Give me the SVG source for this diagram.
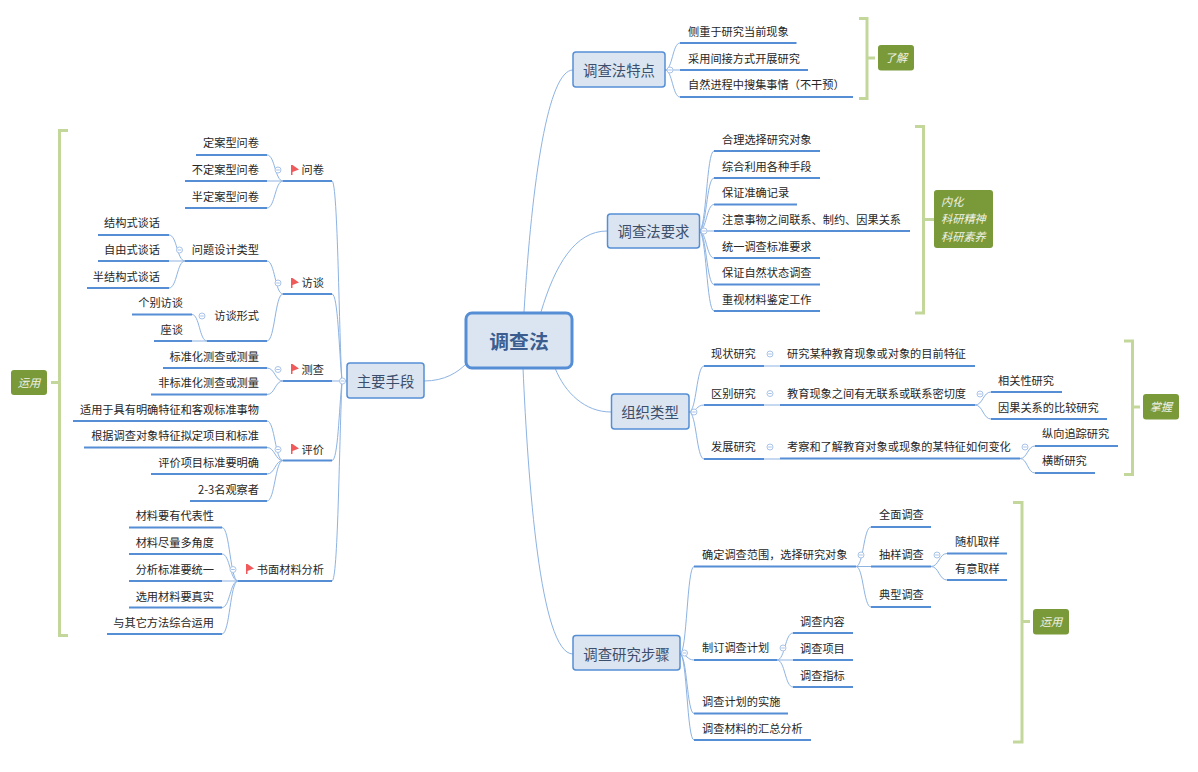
<svg xmlns="http://www.w3.org/2000/svg" width="1198" height="772" viewBox="0 0 1198 772">
<style>
text{font-family:"Noto Sans CJK SC","Liberation Sans",sans-serif;font-size:11.2px;fill:#262626}
.e{text-anchor:end}
.m{text-anchor:middle}
.ul{stroke:#558ed5;stroke-width:2;fill:none}
.c{stroke:#8db3e2;stroke-width:1;fill:none}
.br{stroke:#c4d79b;stroke-width:3;fill:none}
.t{fill:#dbe5f1;stroke:#558ed5;stroke-width:1.5}
.tt{font-size:14.4px;fill:#3b4e6b}
.lb{fill:#7a9a3a}
.lt{fill:#f2f2e6;font-style:italic}
.f{fill:#f15a5a}
</style>
<defs>
<g id="tog" fill="#fff" stroke="#a9c4e8" stroke-width="1"><circle r="3"/><path d="M-1.8 0H1.8" fill="none"/></g>
<polygon id="flag" points="291,165 292.500,165 299,169.500 292.500,172 292.500,175 291,175"/>
</defs>
<rect width="1198" height="772" fill="#fff"/>
<g id="connectors">
<path class="c" d="M424 381C445 381 458 372 466 364"/>
<path class="c" d="M524 312C532 180 548 70 573 70"/>
<path class="c" d="M541 312C555 265 575 231 607 231"/>
<path class="c" d="M555 368C565 393 585 412 611 412"/>
<path class="c" d="M523 368C528 480 540 654 573 654"/>
<path class="c" d="M347 381H332"/>
<path class="c" d="M342 381C339 340 338 181 332 181"/>
<path class="c" d="M342 381C339 350 338 294 332 294"/>
<path class="c" d="M342 381C339 410 338 460.500 332 460.500"/>
<path class="c" d="M342 381C339 450 338 581 332 581"/>
<path class="c" d="M283 181C275 181 275 155 267 155"/>
<path class="c" d="M283 181H267"/>
<path class="c" d="M283 181C275 181 275 208 267 208"/>
<path class="c" d="M283 294C275 294 275 261 267 261"/>
<path class="c" d="M283 294C275 294 275 341 267 341"/>
<path class="c" d="M185 261C177 261 177 235 169 235"/>
<path class="c" d="M185 261H169"/>
<path class="c" d="M185 261C177 261 177 288 169 288"/>
<path class="c" d="M207 341C199.500 341 199.500 314.500 192 314.500"/>
<path class="c" d="M207 341H192"/>
<path class="c" d="M283 381C275 381 275 368 267 368"/>
<path class="c" d="M283 381C275 381 275 394.500 267 394.500"/>
<path class="c" d="M283 460.500C275 460.500 275 421 267 421"/>
<path class="c" d="M283 460.500C275 460.500 275 447.500 267 447.500"/>
<path class="c" d="M283 460.500C275 460.500 275 474 267 474"/>
<path class="c" d="M283 460.500C275 460.500 275 501 267 501"/>
<path class="c" d="M238 581C230 581 230 527.500 222 527.500"/>
<path class="c" d="M238 581C230 581 230 554 222 554"/>
<path class="c" d="M238 581H222"/>
<path class="c" d="M238 581C230 581 230 607.500 222 607.500"/>
<path class="c" d="M238 581C230 581 230 634 222 634"/>
<path class="c" d="M665 70C672.500 70 672.500 43 680 43"/>
<path class="c" d="M665 70H680"/>
<path class="c" d="M665 70C672.500 70 672.500 97 680 97"/>
<path class="c" d="M699 231C706.500 231 706.500 151 714 151"/>
<path class="c" d="M699 231C706.500 231 706.500 178 714 178"/>
<path class="c" d="M699 231C706.500 231 706.500 204.500 714 204.500"/>
<path class="c" d="M699 231H714"/>
<path class="c" d="M699 231C706.500 231 706.500 258 714 258"/>
<path class="c" d="M699 231C706.500 231 706.500 284.500 714 284.500"/>
<path class="c" d="M699 231C706.500 231 706.500 311 714 311"/>
<path class="c" d="M689 412C696.500 412 696.500 366 704 366"/>
<path class="c" d="M689 412C696.500 412 696.500 405 704 405"/>
<path class="c" d="M689 412C696.500 412 696.500 459 704 459"/>
<path class="c" d="M764 366H780M764 405H780M764 459H780"/>
<path class="c" d="M975 405C983 405 983 392 991 392"/>
<path class="c" d="M975 405C983 405 983 419 991 419"/>
<path class="c" d="M1020 458.500C1027.500 458.500 1027.500 446 1035 446"/>
<path class="c" d="M1020 458.500C1027.500 458.500 1027.500 473 1035 473"/>
<path class="c" d="M680 654C687 654 687 566.500 694 566.500"/>
<path class="c" d="M680 654C687 654 687 660 694 660"/>
<path class="c" d="M680 654C687 654 687 713.500 694 713.500"/>
<path class="c" d="M680 654C687 654 687 740 694 740"/>
<path class="c" d="M856 566.500C863.500 566.500 863.500 527 871 527"/>
<path class="c" d="M856 566.500H871"/>
<path class="c" d="M856 566.500C863.500 566.500 863.500 607 871 607"/>
<path class="c" d="M931 566.500C939 566.500 939 553.500 947 553.500"/>
<path class="c" d="M931 566.500C939 566.500 939 580 947 580"/>
<path class="c" d="M777 660C785 660 785 633 793 633"/>
<path class="c" d="M777 660H793"/>
<path class="c" d="M777 660C785 660 785 687 793 687"/>
</g>
<g id="root"><rect x="466" y="313" width="106" height="55" rx="6" fill="#dbe5f1" stroke="#558ed5" stroke-width="3"/><text class="m" x="519" y="349" style="font-size:19.8px;font-weight:700;fill:#3b5d8f">调查法</text></g>
<g id="n-zhuyao"><rect class="t" x="347" y="363" width="77" height="35" rx="3"/><text class="tt m" x="385.500" y="386.500">主要手段</text></g>
<g id="n-tedian"><rect class="t" x="573" y="52" width="92" height="35" rx="3"/><text class="tt m" x="619" y="75.500">调查法特点</text></g>
<g id="n-yaoqiu"><rect class="t" x="607.500" y="214" width="92" height="34" rx="3"/><text class="tt m" x="653.500" y="236.500">调查法要求</text></g>
<g id="n-zuzhi"><rect class="t" x="611.500" y="394" width="77.500" height="35" rx="3"/><text class="tt m" x="650" y="417.500">组织类型</text></g>
<g id="n-buzhou"><rect class="t" x="573" y="635.500" width="107" height="34.500" rx="3"/><text class="tt m" x="626.500" y="659.500">调查研究步骤</text></g>
<g id="left-nodes">
<g id="l1"><path class="ul" d="M196 155H267"/><text class="e" x="259" y="147">定案型问卷</text></g>
<g id="l2"><path class="ul" d="M185 181H267"/><text class="e" x="259" y="174">不定案型问卷</text></g>
<g id="l3"><path class="ul" d="M185 208H267"/><text class="e" x="259" y="200.500">半定案型问卷</text></g>
<g id="l4"><path class="ul" d="M283 181H332"/><use href="#flag" class="f"/><text class="e" x="324" y="174">问卷</text></g>
<g id="l5"><path class="ul" d="M98 235H169"/><text class="e" x="160" y="227">结构式谈话</text></g>
<g id="l6"><path class="ul" d="M98 261H169"/><text class="e" x="160" y="254">自由式谈话</text></g>
<g id="l7"><path class="ul" d="M87 288H169"/><text class="e" x="160" y="280.500">半结构式谈话</text></g>
<g id="l8"><path class="ul" d="M185 261H267"/><text class="e" x="259" y="254">问题设计类型</text></g>
<g id="l9"><path class="ul" d="M132 314.500H192"/><text class="e" x="183" y="307">个别访谈</text></g>
<g id="l10"><path class="ul" d="M154 341H192"/><text class="e" x="183" y="334">座谈</text></g>
<g id="l11"><path class="ul" d="M207 341H267"/><text class="e" x="259" y="320">访谈形式</text></g>
<g id="l12"><path class="ul" d="M283 294H332"/><use href="#flag" y="113" class="f"/><text class="e" x="324" y="287">访谈</text></g>
<g id="l13"><path class="ul" d="M163 368H267"/><text class="e" x="259" y="360.500">标准化测查或测量</text></g>
<g id="l14"><path class="ul" d="M151 394.500H267"/><text class="e" x="259" y="387">非标准化测查或测量</text></g>
<g id="l15"><path class="ul" d="M283 381H332"/><use href="#flag" y="199" class="f"/><text class="e" x="324" y="373.500">测查</text></g>
<g id="l16"><path class="ul" d="M73 421H267"/><text class="e" x="259" y="413.500">适用于具有明确特征和客观标准事物</text></g>
<g id="l17"><path class="ul" d="M84 447.500H267"/><text class="e" x="259" y="440">根据调查对象特征拟定项目和标准</text></g>
<g id="l18"><path class="ul" d="M151 474H267"/><text class="e" x="259" y="467">评价项目标准要明确</text></g>
<g id="l19"><path class="ul" d="M190 501H267"/><text class="e" x="259" y="494">2-3名观察者</text></g>
<g id="l20"><path class="ul" d="M283 460.500H332"/><use href="#flag" y="279" class="f"/><text class="e" x="324" y="453.500">评价</text></g>
<g id="l21"><path class="ul" d="M129 527.500H222"/><text class="e" x="214" y="520">材料要有代表性</text></g>
<g id="l22"><path class="ul" d="M129 554H222"/><text class="e" x="214" y="547">材料尽量多角度</text></g>
<g id="l23"><path class="ul" d="M129 581H222"/><text class="e" x="214" y="574">分析标准要统一</text></g>
<g id="l24"><path class="ul" d="M129 607.500H222"/><text class="e" x="214" y="600.500">选用材料要真实</text></g>
<g id="l25"><path class="ul" d="M107 634H222"/><text class="e" x="214" y="627">与其它方法综合运用</text></g>
<g id="l26"><path class="ul" d="M238 581H332"/><use href="#flag" x="-45" y="399" class="f"/><text class="e" x="324" y="573.500">书面材料分析</text></g>
</g>
<g id="right-nodes">
<g id="r1"><path class="ul" d="M680 43H796.500"/><text x="688" y="35.500">侧重于研究当前现象</text></g>
<g id="r2"><path class="ul" d="M680 70H808"/><text x="688" y="62.500">采用间接方式开展研究</text></g>
<g id="r3"><path class="ul" d="M680 97H853"/><text x="688" y="89">自然进程中搜集事情（不干预）</text></g>
<g id="r4"><path class="ul" d="M714 151H820"/><text x="722" y="143.500">合理选择研究对象</text></g>
<g id="r5"><path class="ul" d="M714 178H820"/><text x="722" y="170.500">综合利用各种手段</text></g>
<g id="r6"><path class="ul" d="M714 204.500H797"/><text x="722" y="197">保证准确记录</text></g>
<g id="r7"><path class="ul" d="M714 231H910"/><text x="722" y="223.500">注意事物之间联系、制约、因果关系</text></g>
<g id="r8"><path class="ul" d="M714 258H820"/><text x="722" y="250.500">统一调查标准要求</text></g>
<g id="r9"><path class="ul" d="M714 284.500H820"/><text x="722" y="277">保证自然状态调查</text></g>
<g id="r10"><path class="ul" d="M714 311H820"/><text x="722" y="303.500">重视材料鉴定工作</text></g>
<g id="r11"><path class="ul" d="M704 366H764"/><text x="711" y="358">现状研究</text></g>
<g id="r12"><path class="ul" d="M780 366H975"/><text x="787" y="358">研究某种教育现象或对象的目前特征</text></g>
<g id="r13"><path class="ul" d="M704 405H764"/><text x="711" y="398">区别研究</text></g>
<g id="r14"><path class="ul" d="M780 405H975"/><text x="787" y="398">教育现象之间有无联系或联系密切度</text></g>
<g id="r15"><path class="ul" d="M991 392H1062"/><text x="998" y="385">相关性研究</text></g>
<g id="r16"><path class="ul" d="M991 419H1107"/><text x="998" y="412">因果关系的比较研究</text></g>
<g id="r17"><path class="ul" d="M704 459H764"/><text x="711" y="451">发展研究</text></g>
<g id="r18"><path class="ul" d="M780 458.500H1020"/><text x="787" y="451">考察和了解教育对象或现象的某特征如何变化</text></g>
<g id="r19"><path class="ul" d="M1035 446H1118"/><text x="1042" y="438">纵向追踪研究</text></g>
<g id="r20"><path class="ul" d="M1035 473H1095"/><text x="1042" y="465">横断研究</text></g>
<g id="r21"><path class="ul" d="M694 566.500H856"/><text x="702" y="559">确定调查范围，选择研究对象</text></g>
<g id="r22"><path class="ul" d="M871 527H931"/><text x="879" y="519">全面调查</text></g>
<g id="r23"><path class="ul" d="M871 566.500H931"/><text x="879" y="559">抽样调查</text></g>
<g id="r24"><path class="ul" d="M871 607H931"/><text x="879" y="599">典型调查</text></g>
<g id="r25"><path class="ul" d="M947 553.500H1007"/><text x="955" y="546">随机取样</text></g>
<g id="r26"><path class="ul" d="M947 580H1007"/><text x="955" y="573">有意取样</text></g>
<g id="r27"><path class="ul" d="M694 660H777"/><text x="702" y="652">制订调查计划</text></g>
<g id="r28"><path class="ul" d="M793 633H853"/><text x="800" y="626">调查内容</text></g>
<g id="r29"><path class="ul" d="M793 660H853"/><text x="800" y="652.500">调查项目</text></g>
<g id="r30"><path class="ul" d="M793 687H853"/><text x="800" y="679.500">调查指标</text></g>
<g id="r31"><path class="ul" d="M694 713.500H788"/><text x="702" y="706">调查计划的实施</text></g>
<g id="r32"><path class="ul" d="M694 740H811"/><text x="702" y="732.500">调查材料的汇总分析</text></g>
</g>
<g id="toggles">
<use href="#tog" x="278" y="170"/><use href="#tog" x="179.500" y="250"/><use href="#tog" x="202" y="316"/><use href="#tog" x="278" y="283"/><use href="#tog" x="278" y="369.500"/><use href="#tog" x="278" y="449.500"/><use href="#tog" x="233" y="569.500"/><use href="#tog" x="342.500" y="381"/>
<use href="#tog" x="670" y="70"/><use href="#tog" x="704" y="231"/><use href="#tog" x="694" y="412"/><use href="#tog" x="770" y="354"/><use href="#tog" x="770" y="393.500"/><use href="#tog" x="770" y="447"/><use href="#tog" x="980" y="394"/><use href="#tog" x="1025" y="447"/>
<use href="#tog" x="684.500" y="653"/><use href="#tog" x="861" y="555"/><use href="#tog" x="937" y="555"/><use href="#tog" x="783" y="648"/>
</g>
<g id="b-left"><path class="br" d="M68 130.500H59.500V635.500H68M59.500 382.500H51"/><rect class="lb" x="11" y="370" width="36" height="25" rx="3"/><text class="lt m" x="29" y="387">运用</text></g>
<g id="b-liaojie"><path class="br" d="M859 18.500H867V98.500H859M867 58H875"/><rect class="lb" x="878" y="45" width="36" height="25.500" rx="3"/><text class="lt m" x="896" y="62">了解</text></g>
<g id="b-neihua"><path class="br" d="M915 126.500H923.500V313H915M923.500 219.500H934"/><rect class="lb" x="934" y="190" width="59" height="58" rx="3"/><text class="lt" x="941" y="206">内化</text><text class="lt" x="941" y="223">科研精神</text><text class="lt" x="941" y="241">科研素养</text></g>
<g id="b-zhangwo"><path class="br" d="M1124 341H1132.500V474.500H1124M1132.500 407H1140"/><rect class="lb" x="1143" y="394" width="36" height="25.500" rx="3"/><text class="lt m" x="1161" y="411">掌握</text></g>
<g id="b-yunyong"><path class="br" d="M1013 502.500H1022V742H1013M1022 621.500H1030"/><rect class="lb" x="1033" y="609" width="36" height="25.500" rx="3"/><text class="lt m" x="1051" y="626">运用</text></g>
</svg>
